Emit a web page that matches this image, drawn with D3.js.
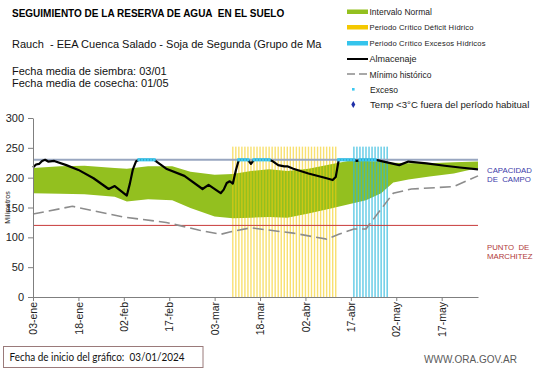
<!DOCTYPE html>
<html>
<head>
<meta charset="utf-8">
<script src="https://cdn.jsdelivr.net/npm/d3@7"></script>
<style>
  body { margin: 0; background: #fff; }
  svg { display: block; font-family: Arial, "Liberation Sans", sans-serif; }
</style>
</head>
<body>
<div id="chart"></div>
<script>
// ---- data ----
const tickDates = ["2024-01-03", "2024-01-18", "2024-02-02", "2024-02-17", "2024-03-03",
  "2024-03-18", "2024-04-02", "2024-04-17", "2024-05-02", "2024-05-17"];
const tickLabels = ["03-ene", "18-ene", "02-feb", "17-feb", "03-mar",
  "18-mar", "02-abr", "17-abr", "02-may", "17-may"];
const yTicks = [0, 50, 100, 150, 200, 250, 300];

// Intervalo normal (green band)
const bandDates = ["2024-01-03", "2024-01-12", "2024-01-20", "2024-01-30", "2024-02-03", "2024-02-10",
  "2024-02-18", "2024-02-24", "2024-03-03", "2024-03-09", "2024-03-15", "2024-03-21", "2024-03-27",
  "2024-04-03", "2024-04-10", "2024-04-16", "2024-04-22", "2024-04-27", "2024-05-01", "2024-05-06",
  "2024-05-13", "2024-05-21", "2024-05-29"];
const bandUpper = [216, 219, 220, 216, 215, 219, 219, 210, 205, 206, 211, 214, 211,
  215, 222, 228, 228, 227, 225, 224, 224, 226, 227];
const bandLower = [174, 173, 172, 168, 160, 164, 162, 149, 135, 132, 133, 134, 133,
  140, 148, 155, 162, 174, 192, 197, 202, 207, 216];

// Almacenaje (black line)
const storageDates = ["2024-01-03", "2024-01-04", "2024-01-05", "2024-01-06", "2024-01-07", "2024-01-08",
  "2024-01-10", "2024-01-14", "2024-01-18", "2024-01-23", "2024-01-28", "2024-01-30", "2024-02-03",
  "2024-02-04", "2024-02-05", "2024-02-06", "2024-02-07", "2024-02-12", "2024-02-16", "2024-02-22",
  "2024-02-28", "2024-03-01", "2024-03-05", "2024-03-06", "2024-03-07", "2024-03-08", "2024-03-09",
  "2024-03-10", "2024-03-11", "2024-03-14", "2024-03-15", "2024-03-16", "2024-03-21", "2024-03-22",
  "2024-03-24", "2024-03-26", "2024-03-27", "2024-03-29", "2024-04-03", "2024-04-09", "2024-04-11",
  "2024-04-12", "2024-04-13", "2024-04-18", "2024-04-19", "2024-04-20", "2024-04-25", "2024-04-26",
  "2024-05-03", "2024-05-06", "2024-05-12", "2024-05-18", "2024-05-23", "2024-05-29"];
const storageValues = [217, 222, 223, 228, 230, 227,
  228, 221, 213, 199, 181, 186, 170,
  190, 214, 227, 230, 230, 215, 203,
  181, 188, 174, 180, 191, 194, 190,
  212, 230, 230, 223, 230, 230, 228,
  221, 219, 219, 215, 207, 199, 196,
  201, 230, 230, 228, 230, 230, 229,
  221, 227, 224, 220, 217, 214];

// Mínimo histórico (grey dashed)
const minDates = ["2024-01-03", "2024-01-16", "2024-02-02", "2024-02-16", "2024-02-27", "2024-03-05",
  "2024-03-08", "2024-03-15", "2024-03-18", "2024-03-29", "2024-04-09", "2024-04-13", "2024-04-18",
  "2024-04-22", "2024-05-01", "2024-05-07", "2024-05-21", "2024-05-29"];
const minValues = [139, 152, 134, 125, 112, 105, 109, 116, 114, 107, 97, 105, 114, 114, 174, 181, 185, 203];

// Exceso (cyan points at field capacity), as day ranges
const excesoRanges = [["2024-02-07", "2024-02-12"], ["2024-03-11", "2024-03-14"], ["2024-03-16", "2024-03-21"],
  ["2024-04-13", "2024-04-18"], ["2024-04-20", "2024-04-25"]];

// Critical periods (daily columns)
const deficitPeriod = ["2024-03-09", "2024-04-12"];
const excessPeriod = ["2024-04-18", "2024-04-29"];
const periodTop = 252;

const fieldCapacity = 230;
const wiltingPoint = 120;
const xDomain = ["2024-01-03", "2024-05-29"];

// ---- chart ----
const width = 541, height = 368;
const parse = d3.utcParse("%Y-%m-%d");

const svg = d3.select("#chart").append("svg")
  .attr("width", width)
  .attr("height", height);

svg.append("rect").attr("width", width).attr("height", height).attr("fill", "#fff");

const x = d3.scaleUtc().domain(xDomain.map(parse)).range([33, 478]);
const y = d3.scaleLinear().domain([0, 300]).range([297, 118]);

// Green band
const band = bandDates.map((d, i) => ({ date: parse(d), lo: bandLower[i], hi: bandUpper[i] }));
svg.append("path")
  .datum(band)
  .attr("fill", "#93C01F")
  .attr("d", d3.area().x(d => x(d.date)).y0(d => y(d.lo)).y1(d => y(d.hi)));

// Critical period columns
function drawPeriod(period, color, op) {
  const days = d3.utcDay.range(parse(period[0]), d3.utcDay.offset(parse(period[1]), 1));
  svg.append("g")
    .selectAll("rect")
    .data(days)
    .join("rect")
    .attr("x", d => x(d) - 0.7)
    .attr("width", 1.4)
    .attr("y", y(periodTop))
    .attr("height", y(0) - y(periodTop))
    .attr("fill", color)
    .attr("opacity", op);
}
drawPeriod(deficitPeriod, "#F4CC10", 0.6);
drawPeriod(excessPeriod, "#2BB8DC", 0.75);

// Reference lines
svg.append("line")
  .attr("x1", x.range()[0]).attr("x2", x.range()[1])
  .attr("y1", y(fieldCapacity)).attr("y2", y(fieldCapacity))
  .attr("stroke", "#98A6C0").attr("stroke-width", 1.8);
svg.append("line")
  .attr("x1", x.range()[0]).attr("x2", x.range()[1])
  .attr("y1", y(wiltingPoint)).attr("y2", y(wiltingPoint))
  .attr("stroke", "#C83A3A").attr("stroke-width", 1);

// Mínimo histórico
const minData = minDates.map((d, i) => ({ date: parse(d), v: minValues[i] }));
svg.append("path")
  .datum(minData)
  .attr("fill", "none")
  .attr("stroke", "#8C8C8C")
  .attr("stroke-width", 1.6)
  .attr("stroke-dasharray", "11,5")
  .attr("d", d3.line().x(d => x(d.date)).y(d => y(d.v)));

// Almacenaje
const storage = storageDates.map((d, i) => ({ date: parse(d), v: storageValues[i] }));
svg.append("path")
  .datum(storage)
  .attr("fill", "none")
  .attr("stroke", "#000")
  .attr("stroke-width", 2.2)
  .attr("stroke-linejoin", "round")
  .attr("d", d3.line().x(d => x(d.date)).y(d => y(d.v)));

// Exceso points
const excesoDays = excesoRanges.flatMap(r => d3.utcDay.range(parse(r[0]), d3.utcDay.offset(parse(r[1]), 1)));
svg.append("g")
  .selectAll("rect")
  .data(excesoDays)
  .join("rect")
  .attr("x", d => x(d) - 1.6)
  .attr("y", y(fieldCapacity) - 1.6)
  .attr("width", 3.2)
  .attr("height", 3.2)
  .attr("fill", "#3CC8F0");

// Axes
const xAxis = svg.append("g")
  .attr("transform", `translate(0,${y(0)})`)
  .call(d3.axisBottom(x)
    .tickValues(tickDates.map(parse))
    .tickFormat((d, i) => tickLabels[i])
    .tickSize(4)
    .tickSizeOuter(0));
xAxis.select(".domain").attr("stroke", "#7F7F7F");
xAxis.selectAll(".tick line").attr("stroke", "#7F7F7F");
xAxis.selectAll("text")
  .attr("transform", "rotate(-90)")
  .attr("text-anchor", "end")
  .attr("x", -5)
  .attr("y", 0)
  .attr("dy", "0.35em")
  .attr("fill", "#222")
  .style("font-size", "10.5px")
  .style("font-family", "Arial, 'Liberation Sans', sans-serif");

const yAxis = svg.append("g")
  .attr("transform", `translate(${x.range()[0]},0)`)
  .call(d3.axisLeft(y).tickValues(yTicks).tickSize(5).tickPadding(4).tickSizeOuter(0));
yAxis.select(".domain").attr("stroke", "#7F7F7F");
yAxis.selectAll(".tick line").attr("stroke", "#7F7F7F");
yAxis.selectAll("text")
  .attr("fill", "#222")
  .style("font-size", "11px")
  .style("font-family", "Arial, 'Liberation Sans', sans-serif");

svg.append("text")
  .attr("transform", "rotate(-90)")
  .attr("x", -(y(0) + y(300)) / 2)
  .attr("y", 10)
  .attr("text-anchor", "middle")
  .style("font-size", "7px")
  .attr("fill", "#222")
  .text("Milímetros");

// Side labels
const side = svg.append("g").style("font-size", "7.8px");
side.append("text").attr("x", 487).attr("y", 173).attr("fill", "#3B3BA8").text("CAPACIDAD");
side.append("text").attr("x", 487).attr("y", 181.5).attr("fill", "#3B3BA8").attr("xml:space", "preserve").text("DE  CAMPO");
side.append("text").attr("x", 487).attr("y", 250).attr("fill", "#B03A3A").attr("xml:space", "preserve").text("PUNTO  DE");
side.append("text").attr("x", 487).attr("y", 258.5).attr("fill", "#B03A3A").text("MARCHITEZ");

// Titles
svg.append("text").attr("x", 12).attr("y", 17)
  .style("font-size", "10px").style("font-weight", "bold").attr("fill", "#000")
  .attr("xml:space", "preserve")
  .text("SEGUIMIENTO DE LA RESERVA DE AGUA  EN EL SUELO");
svg.append("text").attr("x", 12).attr("y", 48)
  .style("font-size", "11px").attr("fill", "#111")
  .attr("xml:space", "preserve")
  .text("Rauch  - EEA Cuenca Salado - Soja de Segunda (Grupo de Ma");
svg.append("text").attr("x", 12).attr("y", 75)
  .style("font-size", "11px").attr("fill", "#111")
  .text("Fecha media de siembra: 03/01");
svg.append("text").attr("x", 12).attr("y", 87)
  .style("font-size", "11px").attr("fill", "#111")
  .text("Fecha media de cosecha: 01/05");

// Legend
const lg = svg.append("g").attr("fill", "#222");
lg.append("rect").attr("x", 347).attr("y", 9.5).attr("width", 21).attr("height", 4.5).attr("fill", "#93C01F");
lg.append("text").attr("x", 369.5).attr("y", 15).style("font-size", "8.5px").text("Intervalo Normal");
lg.append("rect").attr("x", 347).attr("y", 25).attr("width", 21).attr("height", 4.5).attr("fill", "#F4C800");
lg.append("text").attr("x", 369.5).attr("y", 29.5).style("font-size", "7.6px")
  .attr("textLength", 104).attr("lengthAdjust", "spacing").text("Periodo Crítico Déficit Hídrico");
lg.append("rect").attr("x", 347).attr("y", 41).attr("width", 21).attr("height", 4.5).attr("fill", "#35C4EC");
lg.append("text").attr("x", 369.5).attr("y", 45.5).style("font-size", "7.6px")
  .attr("textLength", 116).attr("lengthAdjust", "spacing").text("Periodo Crítico Excesos Hídricos");
lg.append("line").attr("x1", 347).attr("x2", 368).attr("y1", 59).attr("y2", 59)
  .attr("stroke", "#000").attr("stroke-width", 2);
lg.append("text").attr("x", 369.5).attr("y", 62).style("font-size", "9px").text("Almacenaje");
lg.append("line").attr("x1", 347).attr("x2", 368).attr("y1", 74).attr("y2", 74)
  .attr("stroke", "#8C8C8C").attr("stroke-width", 1.6).attr("stroke-dasharray", "8,4");
lg.append("text").attr("x", 369.5).attr("y", 77.5).style("font-size", "8.5px").text("Mínimo histórico");
lg.append("rect").attr("x", 352).attr("y", 88).attr("width", 2.6).attr("height", 2.6).attr("fill", "#3CC8F0");
lg.append("text").attr("x", 370).attr("y", 92.5).style("font-size", "8.5px").text("Exceso");
lg.append("path").attr("transform", "translate(353.3,104.5)")
  .attr("d", d3.symbol(d3.symbolDiamond, 14)()).attr("fill", "#1F2FA8");
lg.append("text").attr("x", 370).attr("y", 108).style("font-size", "9.6px").text("Temp <3°C fuera del período habitual");

// Footer
svg.append("rect").attr("x", 3.5).attr("y", 346.5).attr("width", 199.5).attr("height", 21)
  .attr("fill", "#fff").attr("stroke", "#9A7A7A").attr("stroke-width", 1);
svg.append("text").attr("x", 9.5).attr("y", 361)
  .style("font-family", "Lato, 'Open Sans', sans-serif").style("font-size", "11px").attr("fill", "#111")
  .attr("xml:space", "preserve")
  .attr("textLength", 175).attr("lengthAdjust", "spacingAndGlyphs")
  .text("Fecha de inicio del gráfico:  03/01/2024");
svg.append("text").attr("x", 424).attr("y", 363)
  .style("font-size", "10px").attr("fill", "#5A5A5A")
  .text("WWW.ORA.GOV.AR");
</script>
</body>
</html>
